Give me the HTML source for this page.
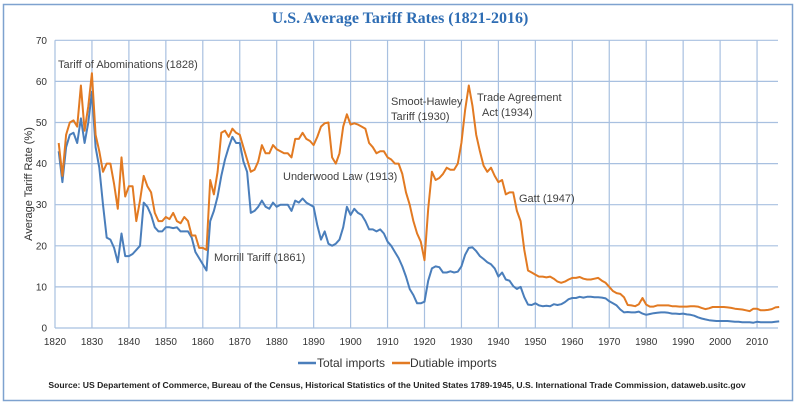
<!DOCTYPE html>
<html><head><meta charset="utf-8"><style>
html,body{margin:0;padding:0;background:#fff;width:800px;height:405px;overflow:hidden}
svg{display:block}
text{font-family:"Liberation Sans",sans-serif}
</style></head><body>
<svg id="s" width="800" height="405" viewBox="0 0 800 405" xmlns="http://www.w3.org/2000/svg">
<rect x="3.5" y="4.5" width="789" height="396" fill="#fff" stroke="#7ea2cf" stroke-width="1.5"/>
<text x="400" y="23" text-anchor="middle" style="font-family:'Liberation Serif',serif" font-weight="bold" font-size="16" fill="#2e6db4">U.S. Average Tariff Rates (1821-2016)</text>
<g id="grid"></g>
<g id="lbl" font-size="10" fill="#333"></g>
<text transform="translate(32,184) rotate(-90)" text-anchor="middle" font-size="11" fill="#333">Average Tariff Rate (%)</text>
<g font-size="11" fill="#404040">
<text x="58" y="68">Tariff of Abominations (1828)</text>
<text x="214" y="261">Morrill Tariff  (1861)</text>
<text x="283" y="180">Underwood  Law (1913)</text>
<text x="391" y="105">Smoot-Hawley</text>
<text x="391" y="120">Tariff (1930)</text>
<text x="477" y="101">Trade Agreement</text>
<text x="482" y="116">Act (1934)</text>
<text x="519" y="202">Gatt (1947)</text>
</g>
<polyline id="pb" fill="none" stroke="#4a7ebb" stroke-width="2" stroke-linejoin="round"/>
<polyline id="po" fill="none" stroke="#e27a22" stroke-width="2" stroke-linejoin="round"/>
<line x1="298" y1="363" x2="316" y2="363" stroke="#4a7ebb" stroke-width="2.5"/>
<text x="317" y="367" font-size="12" fill="#333">Total imports</text>
<line x1="392" y1="363" x2="410" y2="363" stroke="#e27a22" stroke-width="2.5"/>
<text x="410" y="367" font-size="12" fill="#333">Dutiable imports</text>
<text x="397" y="388" text-anchor="middle" font-size="8.6" font-weight="bold" fill="#222">Source: US Departement of Commerce, Bureau of the Census, Historical Statistics of the United States 1789-1945, U.S. International Trade Commission, dataweb.usitc.gov</text>
</svg>
<script>
var X=function(y){return 55+(y-1820)*3.695},Y=function(v){return 328-v*4.11};
var ns="http://www.w3.org/2000/svg",g=document.getElementById('grid'),l=document.getElementById('lbl');
function el(p,t,a,tx){var e=document.createElementNS(ns,t);for(var k in a)e.setAttribute(k,a[k]);if(tx!==undefined)e.textContent=String(tx);p.appendChild(e);}
for(var v=0;v<=70;v+=10){el(g,'line',{x1:55,x2:778,y1:Y(v),y2:Y(v),stroke:'#a8c0e0','stroke-width':1.2});el(l,'text',{x:47,y:Y(v)+3.5,'text-anchor':'end'},v);}
for(var y=1820;y<=2010;y+=10){el(g,'line',{x1:X(y),x2:X(y),y1:Y(70),y2:Y(0),stroke:'#a8c0e0','stroke-width':1.2});el(l,'text',{x:X(y),y:345,'text-anchor':'middle'},y);}
var o=[45,37,47,50,50.5,49,59,48,54,62,47,43,38,40,40,35,29,41.5,32,34.5,34.5,26,31,37,34.5,33,28,26,26,27,26.5,28,26,25.5,27,26,22.5,22.5,19.5,19.5,19,36,32.5,38,47.5,48,46.5,48.5,47.5,47,44,41,38,38.5,40.5,44.5,42.5,42.5,44.5,43.5,43,42.5,42.5,41.5,46,46,47.5,46,45.5,44.5,46.5,49,49.8,50,41.5,40,42.5,49,52,49.5,49.8,49.5,49,48.5,45,44,42.5,43,43,41.5,41,40,40,37.5,33,30,26,23,21,16.5,29,38,36,36.5,37.5,39,38.5,38.5,40,45,53,59,54,47,43,39.5,38,39,37,35.5,36,32.5,33,33,28.5,26,19,14,13.5,13,12.5,12.5,12.3,12.5,12,11.3,11,11.3,11.8,12.2,12.2,12.4,12,11.8,11.8,12,12.2,11.5,11,10,9,8.5,8.3,7.5,5.6,5.5,5.3,5.8,7.3,5.7,5.2,5.2,5.5,5.5,5.5,5.5,5.3,5.3,5.2,5.2,5.2,5.3,5.3,5.2,4.9,4.6,4.8,5.1,5.1,5.1,5.1,5,4.9,4.7,4.6,4.5,4.3,4.1,4.7,4.7,4.3,4.3,4.4,4.6,5,5.1];
var b=[43,35.5,44,47,47.5,45,51,45,50,57.5,44,39,30,22,21.5,19.5,16,23,17.5,17.5,18,19,20,30.5,29.5,27.5,24.5,23.5,23.5,24.5,24.5,24.3,24.5,23.5,23.5,23.5,22,18.5,17,15.5,14,26,28.5,32,37,41,44,46.5,45,45,40.5,38,28,28.5,29.5,31,29.5,29,30.5,29.5,30,30,30,28.5,31,30.5,31.5,30.5,30,29.5,25,21.5,23.5,20.5,20,20.5,21.5,24.5,29.5,27.5,29,28,27.5,26,24,24,23.5,24,23,21,20,18.5,17,15,12.5,9.5,8,6,6,6.4,11.5,14.5,15,14.8,13.5,13.5,13.8,13.5,13.7,15,17.8,19.5,19.6,18.7,17.5,16.8,16,15.5,14.5,12.5,13.5,11.8,11.5,10.2,9.5,10,7.5,5.7,5.6,6,5.5,5.3,5.4,5.3,5.8,5.6,5.8,6.3,7,7.3,7.3,7.6,7.4,7.6,7.6,7.5,7.5,7.4,7.2,6.5,6,5.5,4.5,3.8,3.9,3.8,3.8,4,3.5,3.2,3.4,3.6,3.7,3.8,3.8,3.7,3.5,3.5,3.4,3.5,3.3,3.2,3,2.6,2.3,2.1,1.9,1.8,1.7,1.7,1.7,1.7,1.6,1.5,1.5,1.4,1.4,1.4,1.3,1.5,1.4,1.4,1.4,1.4,1.5,1.6];
function pts(a){return a.map(function(v,i){return X(1821+i).toFixed(1)+','+Y(v).toFixed(1)}).join(' ')}
document.getElementById('po').setAttribute('points',pts(o));
document.getElementById('pb').setAttribute('points',pts(b));
</script>
</body></html>
